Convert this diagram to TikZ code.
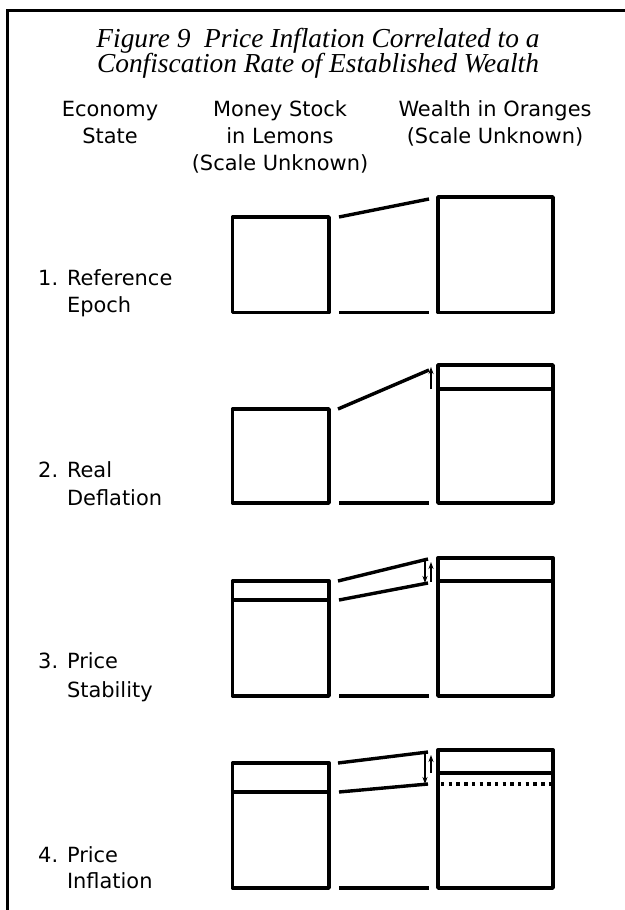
\documentclass[tikz,border=0pt]{standalone}
\usepackage{fontspec}
\setmainfont{Liberation Serif}
\newfontfamily\labelfont{DejaVu Sans}
\usetikzlibrary{arrows.meta,fit}

\begin{document}
\begin{tikzpicture}[x=1bp,y=-1bp,
  box/.style={draw, line width=3.4bp, line join=round, inner sep=0pt},
  heavy/.style={line width=3.4bp},
  divider/.style={line width=3.2bp},
  dotline/.style={line width=3.4bp, dash pattern=on 3.4bp off 4.3bp},
  shiftarrow/.style={line width=1.1bp, -{Stealth[length=7bp,width=5bp]}},
  head/.style={font=\labelfont\fontsize{21}{25}\selectfont, inner sep=0pt, anchor=base},
  state/.style={font=\labelfont\fontsize{21}{25}\selectfont, inner sep=0pt, anchor=base west},
  title/.style={font=\itshape\fontsize{27.5}{30}\selectfont, inner sep=0pt, anchor=base}]
\useasboundingbox (0,0) rectangle (625,910);

% frame: left and top rules only
\draw[line width=3bp] (7.5,910) -- (7.5,10.5) -- (625,10.5);

% title
\node[title] (title1) at (318,47) {Figure 9\ \ Price Inflation Correlated to a};
\node[title] (title2) at (318,72) {Confiscation Rate of Established Wealth};

% column heads
\node[head] (h1a) at (110,116) {Economy};
\node[head] (h1b) at (110,143) {State};
\node[head] (h2a) at (280,116) {Money Stock};
\node[head] (h2b) at (280,143) {in Lemons};
\node[head] (h2c) at (280,170) {(Scale Unknown)};
\node[head] (h3a) at (495,116) {Wealth in Oranges};
\node[head] (h3b) at (495,143) {(Scale Unknown)};

% row labels
\node[state] (s1a) at (38,285) {1. Reference};
\node[state] (s1b) at (38,312) {\phantom{1. }Epoch};
\node[state] (s2a) at (38,477) {2. Real};
\node[state] (s2b) at (38,505) {\phantom{2. }Deflation};
\node[state] (s3a) at (38,668) {3. Price};
\node[state] (s3b) at (38,697) {\phantom{3. }Stability};
\node[state] (s4a) at (38,862) {4. Price};
\node[state] (s4b) at (38,888) {\phantom{4. }Inflation};

% row 1: reference epoch
\node[box, fit={(232.5,217) (329,312.5)}] (L1) {};
\node[box, fit={(438,197) (553,312.5)}] (R1) {};
\draw[heavy] (339,217) coordinate (t1a) -- (429,199) coordinate (t1b);
\draw[heavy] (339,312.5) coordinate (b1a) -- (429,312.5) coordinate (b1b);

% row 2: real deflation
\node[box, fit={(232.5,409) (329,503)}] (L2) {};
\node[box, fit={(438,365) (553,503)}] (R2) {};
\draw[divider] (R2.west |- 0,389) coordinate (r2m) -- (R2.east |- 0,389);
\draw[heavy] (338,409) coordinate (t2a) -- (429,370) coordinate (t2b);
\draw[heavy] (339,503) coordinate (b2a) -- (429,503) coordinate (b2b);
\coordinate (u2a) at (431,389);
\coordinate (u2b) at (431,367);
\draw[shiftarrow] (u2a) -- (u2b);

% row 3: price stability
\node[box, fit={(232.5,581) (329,696)}] (L3) {};
\node[box, fit={(438,558) (553,696)}] (R3) {};
\draw[divider] (L3.west |- 0,600) -- (L3.east |- 0,600);
\draw[divider] (R3.west |- 0,581) -- (R3.east |- 0,581);
\draw[heavy] (338,581) coordinate (t3a) -- (428,559) coordinate (t3b);
\draw[heavy] (339,600) coordinate (m3a) -- (428,583) coordinate (m3b);
\draw[heavy] (339,696) coordinate (b3a) -- (429,696) coordinate (b3b);
\coordinate (d3a) at (425,559);
\coordinate (d3b) at (425,583);
\coordinate (u3a) at (431,582);
\coordinate (u3b) at (431,562);
\draw[shiftarrow] (d3a) -- (d3b);
\draw[shiftarrow] (u3a) -- (u3b);

% row 4: price inflation
\node[box, fit={(232.5,763) (329,888)}] (L4) {};
\node[box, fit={(438,750) (553,888)}] (R4) {};
\draw[divider] (L4.west |- 0,792) -- (L4.east |- 0,792);
\draw[divider] (R4.west |- 0,773) -- (R4.east |- 0,773);
\draw[dotline] (441,784) -- (553,784);
\draw[heavy] (338,763) coordinate (t4a) -- (428,752) coordinate (t4b);
\draw[heavy] (339,792) coordinate (m4a) -- (428,784) coordinate (m4b);
\draw[heavy] (339,888) coordinate (b4a) -- (429,888) coordinate (b4b);
\coordinate (d4a) at (425,752);
\coordinate (d4b) at (425,784);
\coordinate (u4a) at (431,773);
\coordinate (u4b) at (431,755);
\draw[shiftarrow] (d4a) -- (d4b);
\draw[shiftarrow] (u4a) -- (u4b);
\end{tikzpicture}
\end{document}
